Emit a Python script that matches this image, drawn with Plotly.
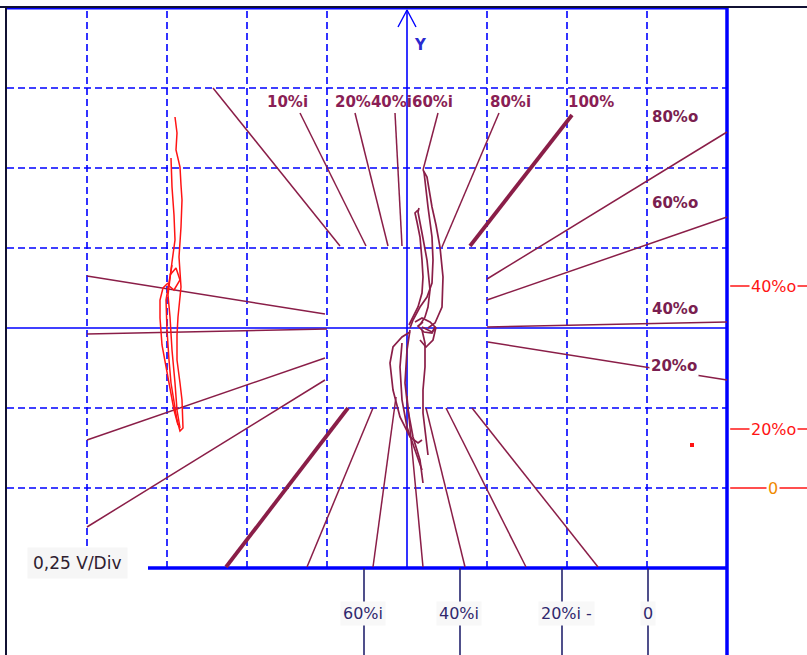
import plotly.graph_objects as go

# Scope screen in divisions (0.25 V/div); origin = centre of the trace window
X_RANGE = [-5.0875, 5.0]
Y_RANGE = [-4.0875, 4.1]

GRID_X = [-4, -3, -2, -1, 1, 2, 3]
GRID_Y = [3, 2, 1, -1, -2]

# Upper fan of input characteristics (start -> end, divisions)
upper_x0 = [-2.425, -1.3375, -0.65, -0.15, 0.3875, 1.15, 2.0625]
upper_y0 = [3.0, 2.6875, 2.6875, 2.6875, 2.6875, 2.6875, 2.6625]
upper_x1 = [-0.8375, -0.5125, -0.2375, -0.0625, 0.2, 0.4375, 0.7875]
upper_y1 = [1.025, 1.025, 1.025, 1.025, 1.975, 1.0125, 1.025]

# Lower fan (mirror of the upper one)
lower_x0 = [-0.7375, -0.425, -0.1375, 0.0, 0.2375, 0.4875, 0.8125]
lower_y0 = [-1.0, -1.0, -0.8625, -0.85, -1.0, -1.0, -1.0]
lower_x1 = [-2.2625, -1.25, -0.425, 0.2, 0.725, 1.4875, 2.3875]
lower_y1 = [-2.9875, -2.9875, -2.9875, -2.9875, -2.9875, -2.9875, -2.9875]

# Output characteristics, right and left fans
right_x0 = [1.0, 1.0, 1.0, 1.0125]
right_y0 = [0.6125, 0.35, 0.0125, -0.175]
right_x1 = [4.0, 4.0, 4.0, 4.0]
right_y1 = [2.45, 1.3875, 0.075, -0.65]

left_x0 = [-1.025, -1.0, -1.025, -1.025]
left_y0 = [0.175, -0.0125, -0.375, -0.65]
left_x1 = [-4.0, -4.0, -4.0, -4.0]
left_y1 = [0.65, -0.075, -1.4, -2.4875]

THICK_UPPER = 6   # the 100% line
THICK_LOWER = 0

top_labels = ["10%i", "20%40%i60%i", "80%i", "100%"]
top_label_x = [-1.5, -0.1625, 1.2875, 2.3]
top_label_y = 2.825

out_labels = ["80%o", "60%o", "40%o", "20%o"]
out_label_x = [3.35, 3.35, 3.35, 3.3375]
out_label_y = [2.6375, 1.5625, 0.2375, -0.475]

# Input scale under the screen
in_scale_x = [-0.5375, 0.6625, 1.9375, 3.0125]
in_scale_labels = ["60%i", "40%i", "20%i -", "0"]
in_label_x = [-0.55, 0.65, 1.6375, 3.0125]
in_label_y = -3.5625

# Output scale right of the screen
out_scale_y = [0.525, -1.2625, -2.0]
out_scale_labels = ["40%o", "20%o", "0"]
out_scale_label_x = 4.58

# Measured trace (centre, maroon)
trace_c = [
    ([0.2, 0.25, 0.2875, 0.3125, 0.3625, 0.4125, 0.45, 0.4375, 0.35, 0.2625],
     [1.975, 1.8875, 1.6625, 1.5125, 1.2875, 1.0125, 0.6375, 0.2625, 0.0625, 0.0]),
    ([0.2125, 0.2375, 0.2625, 0.3125, 0.325, 0.3125, 0.25, 0.1625, 0.075, 0.0375],
     [1.95, 1.725, 1.5125, 1.1375, 0.85, 0.5625, 0.3875, 0.2625, 0.1, 0.0]),
    ([0.1375, 0.1, 0.125, 0.1625, 0.1875, 0.2, 0.1875, 0.1375, 0.075, 0.025],
     [1.475, 1.4375, 1.325, 1.1375, 0.85, 0.6375, 0.4375, 0.2625, 0.1375, 0.0375]),
    ([0.15, 0.1375, 0.1875, 0.25, 0.2875, 0.2625, 0.225, 0.1625],
     [1.5, 1.45, 1.1875, 0.85, 0.475, 0.2625, 0.1375, 0.0375]),
    ([0.1, 0.1875, 0.2875, 0.35, 0.3125, 0.2125, 0.1375, 0.2],
     [0.075, 0.125, 0.075, 0.0125, -0.0625, -0.05, 0.025, 0.075]),
    ([0.1875, 0.3125, 0.3625, 0.325, 0.2375, 0.1625],
     [0.0125, -0.05, 0.0125, -0.15, -0.2375, -0.15]),
    ([0.0375, -0.0625, -0.175, -0.2125, -0.175, -0.0875, 0.0375, 0.1375, 0.1875],
     [-0.05, -0.1125, -0.2375, -0.4375, -0.775, -1.1125, -1.3625, -1.4375, -1.4]),
    ([0.0375, 0.0, -0.025, 0.0125, 0.075, 0.1625, 0.2],
     [-0.025, -0.275, -0.6875, -1.025, -1.3625, -1.65, -1.9375]),
    ([-0.0625, -0.0875, -0.0625, 0.0, 0.1, 0.1875],
     [-0.1875, -0.4875, -0.9, -1.2375, -1.525, -1.775]),
    ([0.1875, 0.225, 0.225, 0.2, 0.2, 0.2375, 0.2625],
     [-0.025, -0.1875, -0.4875, -0.775, -1.0625, -1.4, -1.5875]),
]

# Reference trace (left, red)
trace_r = [
    ([-2.9, -2.875, -2.8875, -2.8375, -2.825, -2.8125, -2.825, -2.85, -2.825, -2.8625,
      -2.875, -2.875, -2.8375, -2.8125, -2.8, -2.8375, -2.875, -2.9125, -2.95, -2.975,
      -3.0, -3.0125, -2.975, -2.9375],
     [2.6375, 2.4375, 2.225, 2.0125, 1.7875, 1.6, 1.2625, 0.8875, 0.5125, 0.1375,
      -0.0875, -0.4, -0.6875, -0.9, -1.25, -1.2875, -1.15, -0.9, -0.6875, -0.4,
      -0.025, 0.35, 0.575, 0.7875]),
    ([-2.95, -2.9375, -2.9125, -2.9, -2.9375, -2.9625, -2.9875, -2.9625, -2.9375, -2.9,
      -2.875, -2.8375],
     [2.125, 1.7625, 1.4125, 1.1, 0.825, 0.6, 0.4125, 0.1375, -0.275, -0.6875,
      -1.025, -1.25]),
    ([-2.9875, -3.05, -3.0875, -3.0875, -3.0625, -3.0125, -2.9625, -2.9125, -2.8625],
     [0.5625, 0.5, 0.35, 0.125, -0.2125, -0.5, -0.775, -1.025, -1.2125]),
    ([-2.9625, -2.8875, -2.8375, -2.9125, -2.9875],
     [0.6625, 0.75, 0.6, 0.475, 0.5375]),
]
red_dot = (3.5625, -1.4625)

# ---------------------------------------------------------------- drawing
BLUE = "#0000ff"
MAROON = "#8a1e48"
RED = "#ff1414"
NAVY = "#24246e"
FONT = "DejaVu Sans"

fig = go.Figure()


def seg(xs, ys, color, width, dash=None):
    fig.add_trace(go.Scatter(
        x=xs, y=ys, mode="lines", hoverinfo="skip", showlegend=False,
        line=dict(color=color, width=width, dash=dash)))


# dashed graticule
for gx in GRID_X:
    seg([gx, gx], [-3.0, 4.0], BLUE, 1.6, "7px,4px")
for gy in GRID_Y:
    seg([-5.0, 4.0], [gy, gy], BLUE, 1.6, "7px,4px")

# axes
seg([-5.0, 4.0], [0, 0], BLUE, 1.6)
seg([0, 0], [-3.0, 3.975], BLUE, 1.6)
seg([-0.1125, 0, 0.1125], [3.7625, 3.975, 3.7625], BLUE, 1.4)

# frame
seg([-5.1, 5.1], [4.0125, 4.0125], "#111133", 2)
seg([-5.0, 4.0], [3.99, 3.99], BLUE, 1.5)
seg([-5.0125, -5.0125], [4.0125, -4.2], "#111133", 2)
seg([4.0, 4.0], [4.0, -4.2], BLUE, 3.5)
seg([-3.2375, 4.0], [-3.0, -3.0], BLUE, 3.5)

# input scale ticks
for tx in in_scale_x:
    seg([tx, tx], [-3.0, -4.2], NAVY, 1.6)
# output scale ticks
for ty in out_scale_y:
    seg([4.04, 5.1], [ty, ty], RED, 1.6)

# characteristic fans
for i in range(len(upper_x0)):
    seg([upper_x0[i], upper_x1[i]], [upper_y0[i], upper_y1[i]], MAROON,
        3.8 if i == THICK_UPPER else 1.5)
for i in range(len(lower_x0)):
    seg([lower_x0[i], lower_x1[i]], [lower_y0[i], lower_y1[i]], MAROON,
        3.8 if i == THICK_LOWER else 1.5)
for i in range(len(right_x0)):
    seg([right_x0[i], right_x1[i]], [right_y0[i], right_y1[i]], MAROON, 1.5)
for i in range(len(left_x0)):
    seg([left_x0[i], left_x1[i]], [left_y0[i], left_y1[i]], MAROON, 1.5)

# traces
for xs, ys in trace_c:
    seg(xs, ys, MAROON, 1.7)
for xs, ys in trace_r:
    seg(xs, ys, RED, 1.5)
fig.add_trace(go.Scatter(x=[red_dot[0]], y=[red_dot[1]], mode="markers",
                         hoverinfo="skip", showlegend=False,
                         marker=dict(color=RED, size=4, symbol="square")))

# ---------------------------------------------------------------- text
ann = []
for t, x in zip(top_labels, top_label_x):
    ann.append(dict(x=x, y=top_label_y, text=t, showarrow=False,
                    font=dict(family=FONT, size=15, color="#8a1e55", weight="bold")))
for t, x, y in zip(out_labels, out_label_x, out_label_y):
    ann.append(dict(x=x, y=y, text=t, showarrow=False, bgcolor="white", borderpad=1,
                    font=dict(family=FONT, size=15, color="#7a1e50", weight="bold")))
for t, x in zip(in_scale_labels, in_label_x):
    ann.append(dict(x=x, y=in_label_y, text=t, showarrow=False, bgcolor="#f8f8f8",
                    borderpad=2, xanchor="left" if t.endswith("-") else "center",
                    font=dict(family=FONT, size=16, color="#30286e")))
for t, y in zip(out_scale_labels, out_scale_y):
    ann.append(dict(x=out_scale_label_x, y=y, text=t, showarrow=False, bgcolor="white",
                    borderpad=1,
                    font=dict(family=FONT, size=16,
                              color="#f08a00" if t == "0" else RED)))
ann.append(dict(x=-4.125, y=-2.9375, text="0,25 V/Div", showarrow=False,
                bgcolor="#f6f6f6", borderpad=5,
                font=dict(family=FONT, size=17, color="#2e2030")))
ann.append(dict(x=0.1625, y=3.5375, text="Y", showarrow=False,
                font=dict(family=FONT, size=15, color="#2a2ad0", weight="bold")))

fig.update_layout(
    width=807, height=655,
    margin=dict(l=0, r=0, t=0, b=0),
    paper_bgcolor="white", plot_bgcolor="white",
    xaxis=dict(range=X_RANGE, visible=False, fixedrange=True),
    yaxis=dict(range=Y_RANGE, visible=False, fixedrange=True),
    annotations=ann,
    showlegend=False,
)

fig.write_html("out.html")
